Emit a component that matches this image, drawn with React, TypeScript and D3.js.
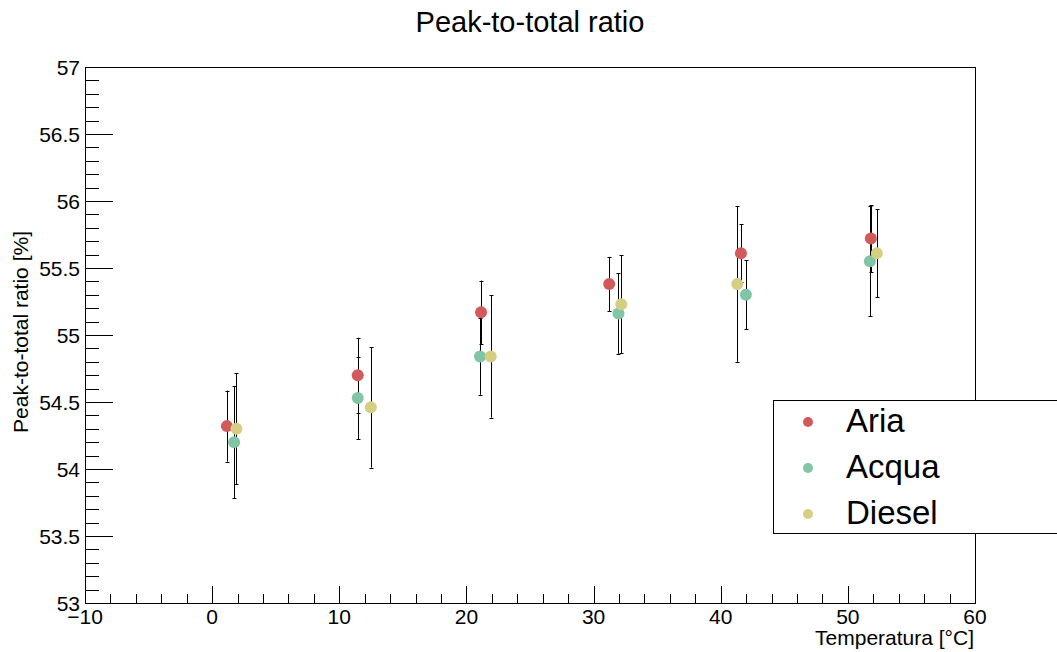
import React from "react"
import * as d3 from "d3"

const seriesNames = ["Aria", "Acqua", "Diesel"]
const seriesColors = ["#d35a5a", "#80c5a5", "#d5cf83"]

const ariaTemp = [1.16, 11.45, 21.15, 31.23, 41.59, 51.81]
const ariaRatio = [54.32, 54.70, 55.17, 55.38, 55.61, 55.72]
const ariaErr = [0.265, 0.28, 0.236, 0.203, 0.217, 0.25]

const acquaTemp = [1.73, 11.45, 21.07, 31.96, 41.98, 51.73]
const acquaRatio = [54.20, 54.53, 54.84, 55.16, 55.30, 55.55]
const acquaErr = [0.42, 0.306, 0.286, 0.30, 0.257, 0.41]

const dieselTemp = [1.91, 12.48, 21.91, 32.18, 41.30, 52.28]
const dieselRatio = [54.30, 54.46, 54.84, 55.23, 55.38, 55.61]
const dieselErr = [0.415, 0.45, 0.457, 0.366, 0.58, 0.33]

const xTicks = [-10, 0, 10, 20, 30, 40, 50, 60]
const yTicks = [53, 53.5, 54, 54.5, 55, 55.5, 56, 56.5, 57]

const W = 1057
const H = 652
const left = 85, right = 975, top = 67, bottom = 603
const font = "'Liberation Sans', Arial, sans-serif"

export default function App() {
  const x = d3.scaleLinear().domain([-10, 60]).range([left, right])
  const y = d3.scaleLinear().domain([53, 57]).range([bottom, top])

  const series = [
    { t: ariaTemp, v: ariaRatio, e: ariaErr },
    { t: acquaTemp, v: acquaRatio, e: acquaErr },
    { t: dieselTemp, v: dieselRatio, e: dieselErr },
  ]

  const xMinor = d3.range(-10, 60.001, 2)
  const yMinor = d3.range(53, 57.001, 0.1)
  const px = (v: number) => Math.round(v) + 0.5

  return (
    <svg width={W} height={H} style={{ position: "absolute", left: 0, top: 0, background: "#fff" }} fontFamily={font}>
      <rect x={0} y={0} width={W} height={H} fill="#fff" />
      <text x={530} y={32} fontSize={29} textAnchor="middle">Peak-to-total ratio</text>

      {/* frame */}
      <rect x={px(left)} y={px(top)} width={right - left} height={bottom - top} fill="none" stroke="#000" strokeWidth={1} />

      {/* x ticks */}
      {xMinor.map((v, i) => (
        <line key={"xm" + i} x1={px(x(v))} x2={px(x(v))} y1={bottom} y2={bottom - (Math.abs(v % 10) < 1e-6 ? 17 : 9)} stroke="#000" />
      ))}
      {xTicks.map(v => (
        <text key={"xl" + v} x={x(v)} y={624} fontSize={21} textAnchor="middle">{v < 0 ? "\u2212" + Math.abs(v) : v}</text>
      ))}
      <text x={right - 1} y={645} fontSize={21} textAnchor="end">Temperatura [°C]</text>

      {/* y ticks */}
      {yMinor.map((v, i) => {
        const major = Math.abs(Math.round(v * 2) - v * 2) < 1e-6
        return <line key={"ym" + i} x1={left} x2={left + (major ? 28 : 14)} y1={px(y(v))} y2={px(y(v))} stroke="#000" />
      })}
      {yTicks.map(v => (
        <text key={"yl" + v} x={80} y={y(v) + 7.5} fontSize={21} textAnchor="end">{v}</text>
      ))}
      <text transform={`translate(28,${(top + bottom) / 2 - 3}) rotate(-90)`} fontSize={21} textAnchor="middle">Peak-to-total ratio [%]</text>

      {/* error bars */}
      {series.map((s, si) => (
        <g key={"e" + si}>
          {s.t.map((t, i) => {
            const cx = px(x(t))
            const y1 = y(s.v[i] + s.e[i])
            const y2 = y(s.v[i] - s.e[i])
            return (
              <g key={i} stroke="#000" strokeWidth={1}>
                <line x1={cx} x2={cx} y1={y1} y2={y2} />
                <line x1={cx - 2} x2={cx + 2} y1={px(y1)} y2={px(y1)} />
                <line x1={cx - 2} x2={cx + 2} y1={px(y2)} y2={px(y2)} />
              </g>
            )
          })}
        </g>
      ))}

      {/* markers */}
      {series.map((s, si) => (
        <g key={"m" + si}>
          {s.t.map((t, i) => (
            <circle key={i} cx={x(t)} cy={y(s.v[i])} r={6} fill={seriesColors[si]} />
          ))}
        </g>
      ))}

      {/* legend */}
      <rect x={773.5} y={400.5} width={300} height={133} fill="#fff" stroke="#000" />
      {seriesNames.map((n, i) => (
        <g key={n}>
          <circle cx={808} cy={422 + i * 46} r={5} fill={seriesColors[i]} />
          <text x={846} y={432 + i * 46} fontSize={33}>{n}</text>
        </g>
      ))}
    </svg>
  )
}
